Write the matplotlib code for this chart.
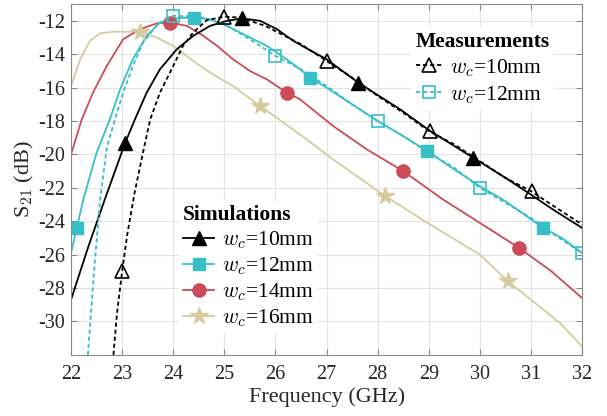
import numpy as np
import matplotlib
matplotlib.use('Agg')
import matplotlib.pyplot as plt
from matplotlib.lines import Line2D

plt.rcParams['font.family'] = ['Liberation Serif', 'DejaVu Serif']
plt.rcParams['mathtext.fontset'] = 'cm'
plt.rcParams['axes.unicode_minus'] = False

# --- simulations (frequency in GHz, S21 in dB) ---
sim10_f = [22.0, 22.33, 22.66, 23.06, 23.25, 23.48, 23.74, 24.07, 24.39, 24.72, 25.05, 25.35, 25.7, 26.03, 26.35, 26.7, 27.0, 27.62, 28.44, 29.03, 29.87, 30.5, 31.02, 31.43, 32.0]
sim10_s = [-28.7, -25.6, -22.7, -19.3, -17.9, -16.3, -14.9, -13.7, -12.9, -12.3, -12.0, -11.85, -12.0, -12.5, -13.2, -13.8, -14.3, -15.7, -17.3, -18.6, -20.2, -21.4, -22.45, -23.3, -24.4]
sim10_mf = [23.06, 25.35, 27.62, 29.87]
sim10_ms = [-19.3, -11.85, -15.7, -20.2]

sim12_f = [22.0, 22.24, 22.5, 22.76, 22.96, 23.21, 23.48, 23.74, 24.0, 24.4, 24.72, 25.05, 25.44, 25.83, 26.22, 26.48, 26.68, 27.0, 27.5, 28.0, 28.5, 28.97, 29.5, 30.0, 30.5, 31.24, 31.6, 32.0]
sim12_s = [-25.9, -22.7, -19.9, -17.9, -16.1, -14.3, -12.9, -12.1, -11.85, -11.8, -11.9, -12.3, -12.9, -13.5, -14.3, -14.9, -15.4, -16.0, -17.0, -18.0, -18.9, -19.8, -20.9, -21.9, -22.8, -24.4, -25.0, -25.9]
sim12_mf = [22.12, 24.4, 26.68, 28.97, 31.24]
sim12_ms = [-24.4, -11.8, -15.4, -19.8, -24.4]

sim14_f = [22.0, 22.21, 22.43, 22.7, 23.02, 23.35, 23.68, 23.94, 24.27, 24.59, 24.86, 25.17, 25.5, 25.83, 26.22, 26.48, 27.13, 27.79, 28.5, 29.28, 30.0, 30.77, 31.4, 32.0]
sim14_s = [-20.0, -17.9, -16.3, -14.7, -13.1, -12.5, -12.15, -12.1, -12.3, -12.9, -13.5, -14.3, -15.0, -15.5, -16.3, -16.7, -18.3, -19.7, -21.0, -22.7, -24.1, -25.6, -27.0, -28.6]
sim14_mf = [23.94, 26.22, 28.5, 30.77]
sim14_ms = [-12.1, -16.3, -21.0, -25.6]

sim16_f = [22.0, 22.18, 22.37, 22.57, 22.82, 23.35, 23.68, 24.0, 24.39, 24.72, 25.17, 25.7, 26.48, 27.13, 28.15, 29.08, 30.0, 30.55, 31.57, 32.0]
sim16_s = [-15.9, -14.3, -13.2, -12.75, -12.65, -12.65, -13.0, -13.5, -14.4, -15.1, -15.9, -17.1, -18.8, -20.3, -22.5, -24.3, -26.0, -27.6, -30.1, -31.5]
sim16_mf = [23.35, 25.7, 28.15, 30.55]
sim16_ms = [-12.65, -17.1, -22.5, -27.6]

# --- measurements ---
meas10_f = [22.83, 22.9, 23.0, 23.1, 23.25, 23.4, 23.55, 23.74, 24.0, 24.19, 24.39, 24.66, 25.0, 25.3, 25.8, 26.5, 27.0, 27.5, 28.0, 28.5, 29.0, 29.5, 30.0, 30.5, 31.0, 31.5, 32.0]
meas10_s = [-32.0, -29.5, -27.0, -24.8, -22.2, -20.0, -17.9, -16.3, -14.7, -13.5, -12.7, -11.95, -11.75, -11.8, -12.3, -13.4, -14.4, -15.4, -16.5, -17.5, -18.6, -19.4, -20.4, -21.4, -22.2, -23.2, -24.2]
meas10_mf = [23.0, 25.0, 27.0, 29.03, 31.02]
meas10_ms = [-27.0, -11.75, -14.4, -18.6, -22.2]

meas12_f = [22.33, 22.45, 22.57, 22.7, 22.86, 23.02, 23.21, 23.41, 23.68, 24.0, 24.5, 25.0, 25.5, 26.0, 26.5, 27.0, 27.5, 28.0, 28.5, 29.0, 29.5, 30.0, 30.5, 31.0, 31.5, 32.0]
meas12_s = [-32.0, -27.0, -22.7, -19.6, -17.9, -16.3, -14.7, -13.3, -12.25, -11.7, -11.75, -12.2, -13.1, -14.1, -14.9, -15.9, -17.0, -18.0, -18.9, -19.9, -20.8, -22.0, -22.9, -23.8, -24.9, -25.9]
meas12_mf = [24.0, 26.0, 28.0, 30.0, 32.0]
meas12_ms = [-11.7, -14.1, -18.0, -22.0, -25.9]

labels = ['$w_c$=10mm', '$w_c$=12mm', '$w_c$=14mm', '$w_c$=16mm']
c_black = 'black'
c_cyan = '#36BFC7'
c_red = '#CC4B58'
c_tan = '#D5CB9F'
dash = (2.3, 1.6)

fig = plt.figure(figsize=(6.07, 4.16), dpi=100)
ax = fig.add_axes([0.117, 0.147, 0.842, 0.843])

# simulations
ax.plot(sim16_f, sim16_s, color=c_tan, lw=1.3)
ax.plot(sim14_f, sim14_s, color=c_red, lw=1.3)
ax.plot(sim12_f, sim12_s, color=c_cyan, lw=1.3)
ax.plot(sim10_f, sim10_s, color=c_black, lw=1.3)
ax.plot(sim16_mf, sim16_ms, ls='none', marker='*', ms=13, color=c_tan, mec=c_tan)
ax.plot(sim14_mf, sim14_ms, ls='none', marker='o', ms=9.5, color=c_red)
ax.plot(sim12_mf, sim12_ms, ls='none', marker='s', ms=8, color=c_cyan)
ax.plot(sim10_mf, sim10_ms, ls='none', marker='^', ms=9.5, color=c_black)

# measurements
ax.plot(meas12_f, meas12_s, color=c_cyan, lw=1.3, ls=(0, dash))
ax.plot(meas10_f, meas10_s, color=c_black, lw=1.3, ls=(0, dash))
ax.plot(meas12_mf, meas12_ms, ls='none', marker='s', ms=8, mfc='none', mec=c_cyan, mew=1.2)
ax.plot(meas10_mf, meas10_ms, ls='none', marker='^', ms=9.5, mfc='none', mec=c_black, mew=1.2)

ax.set_xlim(22, 32)
ax.set_ylim(-32, -11)
ax.set_xticks(np.arange(22, 33, 1))
ax.set_yticks(np.arange(-30, -11, 2))
ax.grid(True, color='#e3e3e3', lw=0.8)
ax.set_axisbelow(True)
for sp in ax.spines.values():
    sp.set_color('#8a8a8a')
    sp.set_linewidth(0.8)
ax.tick_params(direction='in', top=True, right=True, labelsize=14.5,
               color='#8a8a8a', labelcolor='#262626', length=4)
ax.tick_params(axis='x', pad=7)
ax.tick_params(axis='y', pad=4)
ax.set_xlabel('Frequency (GHz)', fontsize=16, color='#262626', labelpad=3)
ax.set_ylabel(r'S$_{\mathrm{21}}$ (dB)', fontsize=16, color='#262626', labelpad=2)

# legends
sim_h = [
    Line2D([], [], color=c_black, lw=1.3, marker='^', ms=9.5),
    Line2D([], [], color=c_cyan, lw=1.3, marker='s', ms=8),
    Line2D([], [], color=c_red, lw=1.3, marker='o', ms=9.5),
    Line2D([], [], color=c_tan, lw=1.3, marker='*', ms=13),
]
leg1 = ax.legend(sim_h, labels, title='Simulations', loc='upper left',
                 bbox_to_anchor=(0.19, 0.47), fontsize=15.5, frameon=True,
                 edgecolor='none', framealpha=1, handlelength=1.45,
                 handletextpad=0.35, labelspacing=0.2, borderpad=0.2,
                 alignment='left', title_fontproperties={'weight': 'bold', 'size': 15.5})
ax.add_artist(leg1)

meas_h = [
    Line2D([], [], color=c_black, lw=1.3, ls=(0, dash), marker='^', ms=9.5, mfc='none', mew=1.2),
    Line2D([], [], color=c_cyan, lw=1.3, ls=(0, dash), marker='s', ms=8, mfc='none', mew=1.2),
]
leg2 = ax.legend(meas_h, labels[:2], title='Measurements', loc='upper left',
                 bbox_to_anchor=(0.645, 0.965), fontsize=15.5, frameon=True,
                 edgecolor='none', framealpha=1, handlelength=1.25,
                 handletextpad=0.35, labelspacing=0.25, borderpad=0.2,
                 alignment='left', title_fontproperties={'weight': 'bold', 'size': 15.5})

fig.savefig('out.png', dpi=100)
